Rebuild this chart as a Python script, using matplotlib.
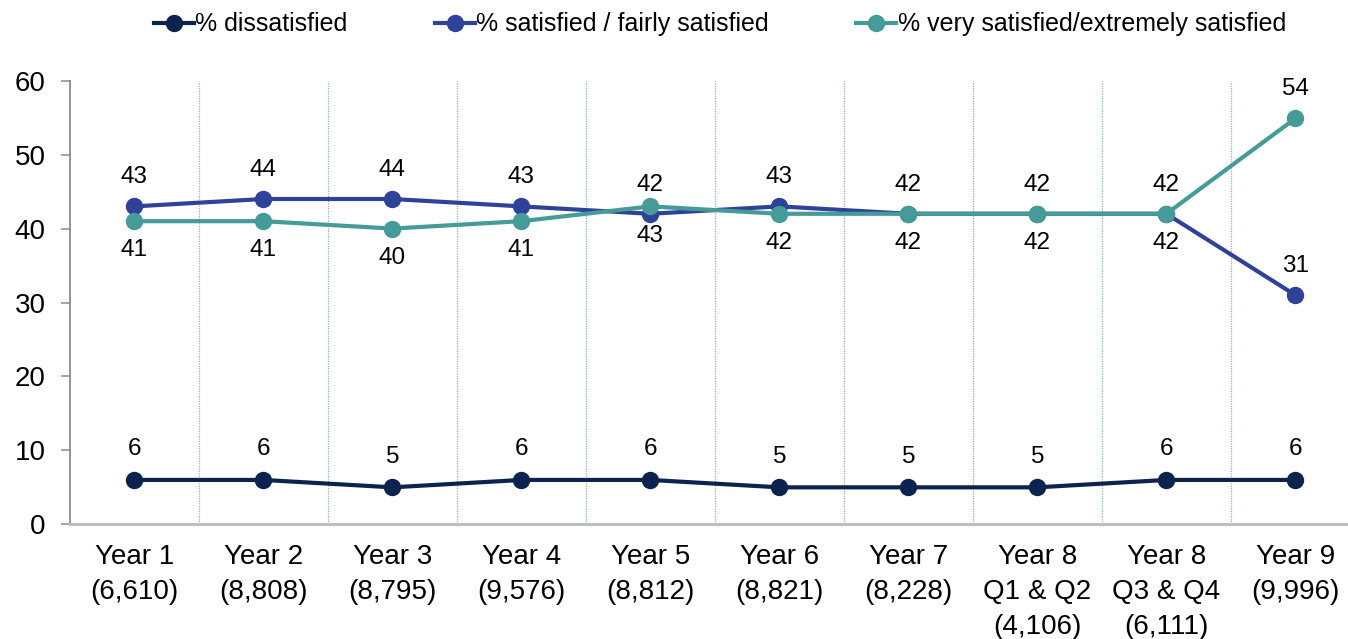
import matplotlib
matplotlib.use('Agg')
import matplotlib.pyplot as plt

plt.rcParams['font.family'] = ['Liberation Sans', 'DejaVu Sans']

# Chart data
categories = ['Year 1\n(6,610)', 'Year 2\n(8,808)', 'Year 3\n(8,795)', 'Year 4\n(9,576)',
              'Year 5\n(8,812)', 'Year 6\n(8,821)', 'Year 7\n(8,228)',
              'Year 8\nQ1 & Q2\n(4,106)', 'Year 8\nQ3 & Q4\n(6,111)', 'Year 9\n(9,996)']
dissatisfied = [6, 6, 5, 6, 6, 5, 5, 5, 6, 6]
satisfied = [43, 44, 44, 43, 42, 43, 42, 42, 42, 31]
very_satisfied = [41, 41, 40, 41, 43, 42, 42, 42, 42, 54.9]
very_satisfied_labels = ['41', '41', '40', '41', '43', '42', '42', '42', '42', '54']

c_dis = '#0c2350'
c_sat = '#2f429a'
c_very = '#449b98'

fig = plt.figure(figsize=(13.48, 6.39), dpi=100)
ax = fig.add_axes([0.0518, 0.1795, 0.957, 0.6942])

x = list(range(len(categories)))
ax.plot(x, dissatisfied, color=c_dis, lw=3, marker='o', ms=11.5, label='% dissatisfied', zorder=3)
ax.plot(x, satisfied, color=c_sat, lw=3, marker='o', ms=11.5, label='% satisfied / fairly satisfied', zorder=3)
ax.plot(x, very_satisfied, color=c_very, lw=3, marker='o', ms=11.5,
        label='% very satisfied/extremely satisfied', zorder=4)

# data labels
for i in x:
    ax.annotate(str(dissatisfied[i]), (i, dissatisfied[i]), xytext=(0, 22), textcoords='offset points',
                ha='center', va='center', fontsize=17.5)
    ax.annotate(str(satisfied[i]), (i, satisfied[i]), xytext=(0, 21), textcoords='offset points',
                ha='center', va='center', fontsize=17.5)
    off = 21 if i == len(x) - 1 else -21
    ax.annotate(very_satisfied_labels[i], (i, very_satisfied[i]), xytext=(0, off), textcoords='offset points',
                ha='center', va='center', fontsize=17.5)

# separators between categories
for i in range(len(categories) - 1):
    ax.plot([i + 0.5, i + 0.5], [0, 60], color='#8fb1b1', lw=0.9, ls=(0, (1, 1)), zorder=1)

ax.set_xlim(-0.5, len(categories) - 0.5)
ax.set_ylim(0, 60)
ax.set_yticks([0, 10, 20, 30, 40, 50, 60])
ax.set_xticks(x)
ax.set_xticklabels(categories, fontsize=20, linespacing=1.45)
ax.tick_params(axis='x', length=0, pad=14)
ax.tick_params(axis='y', labelsize=20, length=6.5, width=1.1, color='#8c8c8c', pad=11, direction='out')

for s in ['top', 'right']:
    ax.spines[s].set_visible(False)
ax.spines['left'].set_color('#8c8c8c')
ax.spines['left'].set_linewidth(1.3)
ax.spines['bottom'].set_color('#bdbdbd')
ax.spines['bottom'].set_linewidth(2.2)

fig.legend(loc='center', bbox_to_anchor=(0.534, 0.962), ncol=3, frameon=False, fontsize=18,
           handlelength=1.6, handletextpad=0.05, columnspacing=3.5)

fig.savefig('out.png', dpi=100, facecolor='white')
